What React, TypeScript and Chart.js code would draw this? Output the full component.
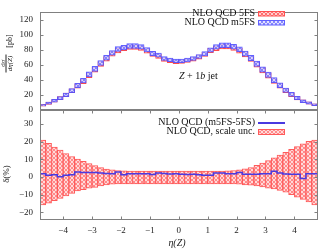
import React, { useEffect, useRef } from 'react';
import { Chart, registerables } from 'chart.js';
Chart.register(...registerables);

// bin centres in eta(Z), bin width 0.2
const etaBins = [
  -4.7, -4.5, -4.3, -4.1, -3.9, -3.7, -3.5, -3.3, -3.1, -2.9, -2.7, -2.5,
  -2.3, -2.1, -1.9, -1.7, -1.5, -1.3, -1.1, -0.9, -0.7, -0.5, -0.3, -0.1,
  0.1, 0.3, 0.5, 0.7, 0.9, 1.1, 1.3, 1.5, 1.7, 1.9, 2.1, 2.3,
  2.5, 2.7, 2.9, 3.1, 3.3, 3.5, 3.7, 3.9, 4.1, 4.3, 4.5, 4.7,
];
const binHalfWidth = 0.1;

// NLO QCD 5FS central value [pb]
const nlo5FS = [
  6.2, 8.9, 12.0, 15.6, 19.8, 25.3, 31.5, 37.8, 46.0, 53.4, 61.2, 68.2,
  74.8, 79.2, 82.3, 84.0, 84.0, 82.7, 79.0, 74.5, 71.6, 67.5, 65.8, 64.4,
  64.6, 65.9, 67.8, 70.6, 74.4, 79.4, 82.4, 84.6, 84.8, 82.7, 79.0, 74.0,
  68.0, 60.2, 52.3, 45.3, 37.9, 31.6, 25.1, 19.9, 15.3, 11.4, 9.0, 6.7,
];

// scale uncertainty (%)
const scaleUncUp = [
  20.9, 19.1, 17.0, 15.2, 13.3, 11.6, 10.2, 8.9, 7.6, 6.5, 5.3, 4.5,
  4.0, 3.7, 3.5, 3.4, 3.4, 3.4, 3.4, 3.4, 3.4, 3.4, 3.4, 3.4,
  3.4, 3.4, 3.4, 3.4, 3.4, 3.4, 3.4, 3.4, 3.5, 3.7, 4.0, 4.6,
  5.4, 6.6, 7.9, 9.3, 10.8, 12.4, 14.0, 15.7, 17.3, 18.8, 20.2, 21.0,
];
const scaleUncDown = [
  -15.9, -14.9, -13.4, -12.1, -10.8, -9.3, -7.9, -7.2, -6.4, -5.9, -5.1, -4.5,
  -4.1, -4.0, -4.0, -4.0, -4.0, -4.0, -4.0, -4.0, -4.0, -4.0, -4.0, -4.0,
  -4.0, -4.0, -4.0, -4.0, -4.0, -4.0, -4.0, -4.0, -4.0, -4.0, -4.1, -4.5,
  -4.7, -5.1, -5.7, -6.3, -6.8, -7.6, -8.6, -10.0, -11.4, -12.7, -14.2, -15.9,
];

// (m5FS - 5FS)/5FS in %
const ratioM5FS = [
  1.9, 1.0, 1.2, 0.2, 1.0, 1.2, 2.8, 2.6, 2.5, 2.5, 2.3, 2.0,
  1.9, 2.8, 1.2, 1.9, 1.9, 1.9, 1.9, 1.4, 2.3, 2.0, 1.7, 1.8,
  1.5, 1.4, 1.6, 1.2, 1.0, 1.0, 2.3, 2.2, 1.9, 1.9, 2.5, 1.6,
  1.5, 1.6, 1.9, 1.9, 3.2, 2.3, 1.7, 1.6, 1.6, -0.9, 1.9, 1.9,
];

const yTicksTop = [0, 20, 40, 60, 80, 100, 120];
const yTicksBottom = [-20, -10, 0, 10, 20, 30];
const xTicks = [-4, -3, -2, -1, 0, 1, 2, 3, 4];

const W = 319;
const H = 249;
const FONT = 'Liberation Serif';
const TICK_COLOR = '#222';
const FRAME = '#808080';

const fmt = (v: number) => String(v).replace('-', '\u2212');

function makePattern(ctx: CanvasRenderingContext2D, bg: string, fg: string) {
  const c = document.createElement('canvas');
  c.width = 4;
  c.height = 4;
  const g = c.getContext('2d')!;
  g.fillStyle = bg;
  g.fillRect(0, 0, 4, 4);
  g.fillStyle = fg;
  for (let i = 0; i < 4; i++) {
    g.fillRect(i, i, 1, 1);
    g.fillRect(3 - i, i, 1, 1);
  }
  return ctx.createPattern(c, 'repeat')!;
}

function frameAndTicks(withXTicks: boolean) {
  return {
    id: 'frameTicks',
    afterDatasetsDraw(chart: any) {
      const { ctx, chartArea } = chart;
      const { left, right, top, bottom } = chartArea;
      ctx.save();
      ctx.strokeStyle = FRAME;
      ctx.lineWidth = 1;
      const L = Math.round(left) + 0.5;
      const R = Math.round(right) - 0.5;
      const T = Math.round(top) + 0.5;
      const B = Math.round(bottom) - 0.5;
      ctx.strokeRect(L, T, R - L, B - T);
      const ys = chart.scales.y;
      ctx.beginPath();
      ys.ticks.forEach((t: any) => {
        const p = Math.round(ys.getPixelForValue(t.value)) + 0.5;
        ctx.moveTo(L, p);
        ctx.lineTo(L + 3, p);
        ctx.moveTo(R, p);
        ctx.lineTo(R - 3, p);
      });
      if (withXTicks) {
        const xs = chart.scales.x;
        xs.ticks.forEach((t: any) => {
          const p = Math.round(xs.getPixelForValue(t.value)) + 0.5;
          ctx.moveTo(p, B);
          ctx.lineTo(p, B - 3);
          ctx.moveTo(p, T);
          ctx.lineTo(p, T + 3);
        });
      }
      ctx.stroke();
      ctx.restore();
    },
  };
}

function rotText(ctx: CanvasRenderingContext2D, text: string, x: number, y: number, font: string) {
  ctx.save();
  ctx.translate(x, y);
  ctx.rotate(-Math.PI / 2);
  ctx.font = font;
  ctx.textAlign = 'center';
  ctx.textBaseline = 'middle';
  ctx.fillText(text, 0, 0);
  ctx.restore();
}

export default function App() {
  const topRef = useRef<HTMLCanvasElement>(null);
  const botRef = useRef<HTMLCanvasElement>(null);

  useEffect(() => {
    const c1 = topRef.current!;
    const c2 = botRef.current!;
    const ctx1 = c1.getContext('2d')!;
    const ctx2 = c2.getContext('2d')!;
    const redPat1 = makePattern(ctx1, '#ffcfcf', '#ff6e6e');
    const bluePat1 = makePattern(ctx1, 'rgba(215,215,255,0.75)', 'rgba(120,120,255,0.85)');
    const redPat2 = makePattern(ctx2, '#ffdada', '#ff8a8a');

    const lo5 = nlo5FS.map((v, i) => v * (1 + scaleUncDown[i] / 100));
    const hi5 = nlo5FS.map((v, i) => v * (1 + scaleUncUp[i] / 100));
    const m5 = nlo5FS.map((v, i) => v * (1 + ratioM5FS[i] / 100));
    const lom = m5.map((v, i) => v * (1 + scaleUncDown[i] / 100));
    const him = m5.map((v, i) => v * (1 + scaleUncUp[i] / 100));

    const topText = {
      id: 'topText',
      afterDraw(chart: any) {
        const ctx: CanvasRenderingContext2D = chart.ctx;
        ctx.save();
        ctx.fillStyle = '#111';
        ctx.font = `10px "${FONT}"`;
        ctx.textAlign = 'right';
        ctx.textBaseline = 'middle';
        ctx.fillText('NLO QCD 5FS', 255, 13);
        ctx.fillText('NLO QCD m5FS', 255, 22.5);
        // swatches
        ctx.fillStyle = redPat1;
        ctx.fillRect(258.5, 11.5, 26, 4.5);
        ctx.strokeStyle = '#ff5050';
        ctx.lineWidth = 1;
        ctx.strokeRect(258.5, 11.5, 26, 4.5);
        ctx.fillStyle = bluePat1;
        ctx.fillRect(258.5, 20.5, 26, 4.5);
        ctx.strokeStyle = '#6060ff';
        ctx.strokeRect(258.5, 20.5, 26, 4.5);
        // Z + 1b jet
        ctx.fillStyle = '#111';
        ctx.textAlign = 'left';
        let x = 179;
        const yy = 76;
        const parts: [string, string][] = [
          ['Z', `italic 10px "${FONT}"`],
          [' + 1', `10px "${FONT}"`],
          ['b', `italic 10px "${FONT}"`],
          [' jet', `10px "${FONT}"`],
        ];
        parts.forEach(([t, f]) => {
          ctx.font = f;
          ctx.fillText(t, x, yy);
          x += ctx.measureText(t).width;
        });
        // y title: dσ/dη(Z) [pb]
        ctx.fillStyle = '#222';
        rotText(ctx, 'd\u03c3', 3, 63, `7px "${FONT}"`);
        ctx.beginPath();
        ctx.strokeStyle = '#222';
        ctx.moveTo(6, 54.5);
        ctx.lineTo(6, 72.5);
        ctx.stroke();
        rotText(ctx, 'd\u03b7(Z)', 9.8, 63.5, `italic 7px "${FONT}"`);
        rotText(ctx, '[pb]', 9.5, 41, `8px "${FONT}"`);
        ctx.restore();
      },
    };

    const botText = {
      id: 'botText',
      afterDraw(chart: any) {
        const ctx: CanvasRenderingContext2D = chart.ctx;
        ctx.save();
        ctx.fillStyle = '#111';
        ctx.font = `10px "${FONT}"`;
        ctx.textAlign = 'right';
        ctx.textBaseline = 'middle';
        ctx.fillText('NLO QCD (m5FS-5FS)', 255, 122.5);
        ctx.fillText('NLO QCD, scale unc.', 255, 131.5);
        ctx.strokeStyle = '#4a3ae0';
        ctx.lineWidth = 2;
        ctx.beginPath();
        ctx.moveTo(258, 123);
        ctx.lineTo(285, 123);
        ctx.stroke();
        ctx.fillStyle = redPat2;
        ctx.fillRect(258.5, 129.5, 26, 5);
        ctx.strokeStyle = '#ff5a5a';
        ctx.lineWidth = 1;
        ctx.strokeRect(258.5, 129.5, 26, 5);
        ctx.fillStyle = '#222';
        rotText(ctx, '\u03b4(%)', 7, 174, `9px "${FONT}"`);
        ctx.textAlign = 'center';
        ctx.font = `italic 10px "${FONT}"`;
        ctx.fillText('\u03b7(Z)', 177, 243);
        ctx.restore();
      },
    };

    const tickFont = { family: FONT, size: 9 };

    const chart1 = new Chart(c1, {
      type: 'bar',
      data: {
        datasets: [
          {
            label: 'NLO QCD m5FS',
            data: etaBins.map((x, i) => ({ x, y: [lom[i], him[i]] })) as any,
            backgroundColor: bluePat1 as any,
            borderColor: 'rgba(80,80,255,0.9)',
            borderWidth: 1,
            borderSkipped: false,
            grouped: false,
            barPercentage: 1,
            categoryPercentage: 1,
            order: 0,
          },
          {
            label: 'NLO QCD 5FS',
            data: etaBins.map((x, i) => ({ x, y: [lo5[i], hi5[i]] })) as any,
            backgroundColor: redPat1 as any,
            borderColor: '#ff4a4a',
            borderWidth: 1,
            borderSkipped: false,
            grouped: false,
            barPercentage: 1,
            categoryPercentage: 1,
            order: 1,
          },
        ],
      },
      options: {
        animation: false,
        responsive: false,
        events: [],
        layout: { padding: { top: 1, bottom: 139, left: 0, right: 1.5 } },
        plugins: { legend: { display: false }, tooltip: { enabled: false } },
        scales: {
          x: {
            type: 'linear',
            min: -4.8,
            max: 4.8,
            offset: false,
            display: false,
          },
          y: {
            min: 0,
            max: 130,
            afterFit: (s: any) => { s.width = 40; },
            afterBuildTicks: (s: any) => { s.ticks = yTicksTop.map((v) => ({ value: v })); },
            grid: { display: false, drawTicks: false },
            border: { display: false },
            ticks: { font: tickFont, color: TICK_COLOR, padding: 7, callback: (v: any) => fmt(v) },
          },
        },
      },
      plugins: [frameAndTicks(false), topText],
    });

    const linePts = etaBins.map((x, i) => ({ x: x - binHalfWidth, y: ratioM5FS[i] }));
    linePts.push({ x: etaBins[etaBins.length - 1] + binHalfWidth, y: ratioM5FS[ratioM5FS.length - 1] });

    const chart2 = new Chart(c2, {
      type: 'bar',
      data: {
        datasets: [
          {
            type: 'line',
            label: 'NLO QCD (m5FS-5FS)',
            data: linePts as any,
            borderColor: '#4a3ae0',
            borderWidth: 1.5,
            pointRadius: 0,
            stepped: true,
            fill: false,
            order: 0,
          } as any,
          {
            type: 'bar',
            label: 'NLO QCD, scale unc.',
            data: etaBins.map((x, i) => ({ x, y: [scaleUncDown[i], scaleUncUp[i]] })) as any,
            backgroundColor: redPat2 as any,
            borderColor: '#ff5a5a',
            borderWidth: 1,
            borderSkipped: false,
            grouped: false,
            barPercentage: 1,
            categoryPercentage: 1,
            order: 1,
          },
        ],
      },
      options: {
        animation: false,
        responsive: false,
        events: [],
        layout: { padding: { top: 110, bottom: 0, left: 0, right: 1.5 } },
        plugins: { legend: { display: false }, tooltip: { enabled: false } },
        scales: {
          x: {
            type: 'linear',
            min: -4.8,
            max: 4.8,
            offset: false,
            afterFit: (s: any) => { s.height = 29; },
            afterBuildTicks: (s: any) => { s.ticks = xTicks.map((v) => ({ value: v })); },
            grid: { display: false, drawTicks: false },
            border: { display: false },
            ticks: { font: tickFont, color: TICK_COLOR, padding: 5, maxRotation: 0, callback: (v: any) => fmt(v) },
          },
          y: {
            min: -24.4,
            max: 38,
            afterFit: (s: any) => { s.width = 40; },
            afterBuildTicks: (s: any) => { s.ticks = yTicksBottom.map((v) => ({ value: v })); },
            grid: { display: false, drawTicks: false },
            border: { display: false },
            ticks: { font: tickFont, color: TICK_COLOR, padding: 7, callback: (v: any) => fmt(v) },
          },
        },
      },
      plugins: [frameAndTicks(true), botText],
    });

    return () => {
      chart1.destroy();
      chart2.destroy();
    };
  }, []);

  return (
    <div style={{ position: 'absolute', left: 0, top: 0, width: W, height: H, background: '#fff' }}>
      <canvas ref={botRef} width={W} height={H} style={{ position: 'absolute', left: 0, top: 0, width: W, height: H }} />
      <canvas ref={topRef} width={W} height={H} style={{ position: 'absolute', left: 0, top: 0, width: W, height: H }} />
    </div>
  );
}
